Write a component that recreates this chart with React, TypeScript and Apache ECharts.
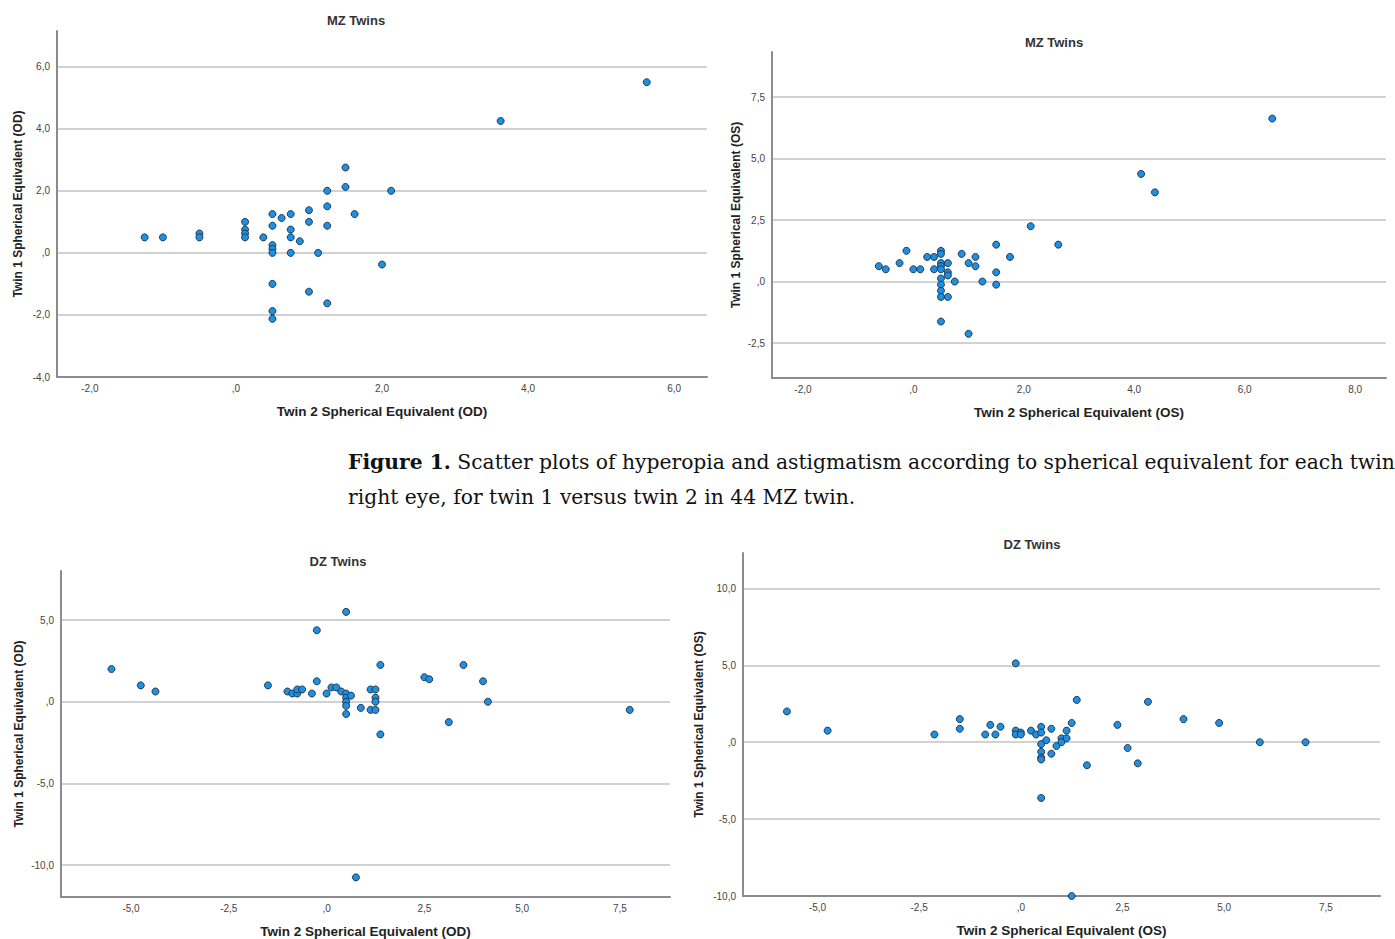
import React, { useEffect, useRef } from 'react';
import * as echarts from 'echarts';

// ---------- DATA ----------
// Panel A: MZ twins, right eye (OD)
const mzOdTwin2 = [-1.25, -1.0, -0.5, -0.5, 0.125, 0.125, 0.125, 0.125, 0.375, 0.5, 0.5, 0.5, 0.5, 0.5, 0.625, 0.75, 0.75, 0.75, 0.75, 0.875, 1.0, 1.0, 1.125, 1.25, 1.25, 1.25, 1.5, 1.5, 1.625, 2.125, 2.0, 0.5, 0.5, 0.5, 1.0, 1.25, 3.625, 5.625];
const mzOdTwin1 = [0.5, 0.5, 0.625, 0.5, 1.0, 0.75, 0.625, 0.5, 0.5, 1.25, 0.875, 0.25, 0.125, 0.0, 1.125, 1.25, 0.75, 0.5, 0.0, 0.375, 1.375, 1.0, 0.0, 2.0, 1.5, 0.875, 2.75, 2.125, 1.25, 2.0, -0.375, -1.0, -1.875, -2.125, -1.25, -1.625, 4.25, 5.5];

// Panel B: MZ twins, left eye (OS)
const mzOsTwin2 = [-0.625, -0.5, -0.25, -0.125, 0.0, 0.125, 0.25, 0.375, 0.375, 0.5, 0.5, 0.5, 0.5, 0.5, 0.5, 0.5, 0.5, 0.5, 0.625, 0.625, 0.625, 0.625, 0.75, 0.875, 1.0, 1.125, 1.125, 1.25, 1.5, 1.5, 1.5, 1.75, 2.125, 2.625, 4.125, 4.375, 6.5, 0.5, 1.0];
const mzOsTwin1 = [0.625, 0.5, 0.75, 1.25, 0.5, 0.5, 1.0, 1.0, 0.5, 1.25, 1.125, 0.75, 0.625, 0.5, 0.125, -0.125, -0.375, -0.625, 0.75, 0.375, 0.25, -0.625, 0.0, 1.125, 0.75, 1.0, 0.625, 0.0, 1.5, 0.375, -0.125, 1.0, 2.25, 1.5, 4.375, 3.625, 6.625, -1.625, -2.125];

// Panel C: DZ twins, right eye (OD)
const dzOdTwin2 = [-5.5, -4.75, -4.375, -1.5, -1.0, -0.875, -0.75, -0.75, -0.625, -0.375, -0.25, -0.25, 0.0, 0.125, 0.25, 0.375, 0.5, 0.5, 0.5, 0.5, 0.5, 0.5, 0.625, 0.875, 1.125, 1.125, 1.25, 1.25, 1.25, 1.25, 1.375, 1.375, 0.75, 2.5, 2.625, 3.125, 3.5, 4.0, 4.125, 7.75];
const dzOdTwin1 = [2.0, 1.0, 0.625, 1.0, 0.625, 0.5, 0.5, 0.75, 0.75, 0.5, 4.375, 1.25, 0.5, 0.875, 0.875, 0.625, 5.5, 0.5, 0.25, 0.0, -0.25, -0.75, 0.375, -0.375, 0.75, -0.5, 0.75, 0.25, 0.0, -0.5, 2.25, -2.0, -10.75, 1.5, 1.375, -1.25, 2.25, 1.25, 0.0, -0.5];

// Panel D: DZ twins, left eye (OS)
const dzOsTwin2 = [-5.75, -4.75, -2.125, -1.5, -1.5, -0.875, -0.75, -0.625, -0.5, -0.125, -0.125, -0.125, 0.0, 0.0, 0.25, 0.375, 0.5, 0.5, 0.5, 0.5, 0.5, 0.5, 0.5, 0.625, 0.75, 0.75, 0.875, 1.0, 1.0, 1.125, 1.125, 1.25, 1.25, 1.375, 1.625, 2.375, 2.625, 2.875, 3.125, 4.0, 4.875, 5.875, 7.0];
const dzOsTwin1 = [2.0, 0.75, 0.5, 1.5, 0.875, 0.5, 1.125, 0.5, 1.0, 5.125, 0.75, 0.5, 0.625, 0.5, 0.75, 0.5, 1.0, 0.625, -0.125, -0.625, -1.0, -1.125, -3.625, 0.125, 0.875, -0.75, -0.25, 0.25, 0.0, 0.25, 0.75, 1.25, -10.0, 2.75, -1.5, 1.125, -0.375, -1.375, 2.625, 1.5, 1.25, 0.0, 0.0];

// Tick labels
const mzOdXTicks = [-2, 0, 2, 4, 6];
const mzOdYTicks = [-4, -2, 0, 2, 4, 6];
const mzOsXTicks = [-2, 0, 2, 4, 6, 8];
const mzOsYTicks = [-2.5, 0, 2.5, 5, 7.5];
const dzOdXTicks = [-5, -2.5, 0, 2.5, 5, 7.5];
const dzOdYTicks = [-10, -5, 0, 5];
const dzOsXTicks = [-5, -2.5, 0, 2.5, 5, 7.5];
const dzOsYTicks = [-10, -5, 0, 5, 10];

const titles = ['MZ Twins', 'MZ Twins', 'DZ Twins', 'DZ Twins'];
const xNames = ['Twin 2 Spherical Equivalent (OD)', 'Twin 2 Spherical Equivalent (OS)', 'Twin 2 Spherical Equivalent (OD)', 'Twin 2 Spherical Equivalent (OS)'];
const yNames = ['Twin 1 Spherical Equivalent (OD)', 'Twin 1 Spherical Equivalent (OS)', 'Twin 1 Spherical Equivalent (OD)', 'Twin 1 Spherical Equivalent (OS)'];

const captionBold = 'Figure 1.';
const captionLine1 = ' Scatter plots of hyperopia and astigmatism according to spherical equivalent for each twin';
const captionLine2 = 'right eye, for twin 1 versus twin 2 in 44 MZ twin.';

// ---------- LAYOUT / STYLE ----------
const panels = [
  { left: 57, top: 31, width: 650, height: 346, xMin: -2.45, xMax: 6.45, yMin: -4, yMax: 7.15, xTicks: mzOdXTicks, yTicks: mzOdYTicks, xs: mzOdTwin2, ys: mzOdTwin1, titleX: 356, titleY: 20, yGap: 33 },
  { left: 772, top: 52, width: 614, height: 326, xMin: -2.56, xMax: 8.56, yMin: -3.92, yMax: 9.33, xTicks: mzOsXTicks, yTicks: mzOsYTicks, xs: mzOsTwin2, ys: mzOsTwin1, titleX: 1054, titleY: 42, yGap: 30 },
  { left: 61, top: 571, width: 609, height: 327, xMin: -6.79, xMax: 8.78, yMin: -11.95, yMax: 8.0, xTicks: dzOdXTicks, yTicks: dzOdYTicks, xs: dzOdTwin2, ys: dzOdTwin1, titleX: 338, titleY: 561, yGap: 36 },
  { left: 743, top: 553, width: 637, height: 343, xMin: -6.83, xMax: 8.83, yMin: -10, yMax: 12.3, xTicks: dzOsXTicks, yTicks: dzOsYTicks, xs: dzOsTwin2, ys: dzOsTwin1, titleX: 1032, titleY: 544, yGap: 38 },
];

const sans = '"Liberation Sans", Arial, sans-serif';
const serif = '"DejaVu Serif", "Liberation Serif", serif';
const captionSize = 20.3;

const fmt = (v: number) => {
  let s = Math.abs(v).toFixed(1).replace('.', ',');
  if (s.startsWith('0,')) s = s.slice(1);
  return (v < 0 ? '-' : '') + s;
};

export default function App() {
  const ref = useRef<HTMLDivElement>(null);
  useEffect(() => {
    const chart = echarts.init(ref.current!, null, { renderer: 'svg' });
    const grid: any[] = [];
    const xAxis: any[] = [];
    const yAxis: any[] = [];
    const series: any[] = [];
    const graphic: any[] = [];
    panels.forEach((p, i) => {
      grid.push({ left: p.left, top: p.top, width: p.width, height: p.height, containLabel: false });
      xAxis.push({
        type: 'value', gridIndex: i, min: p.xMin, max: p.xMax,
        name: xNames[i], nameLocation: 'middle', nameGap: 27,
        nameTextStyle: { fontFamily: sans, fontSize: 13.5, fontWeight: 'bold', color: '#222' },
        axisLine: { show: true, onZero: false, lineStyle: { color: '#8c8c8c', width: 2 } },
        axisTick: { show: false, customValues: p.xTicks },
        axisLabel: { customValues: p.xTicks, formatter: fmt, fontFamily: sans, fontSize: 10, color: '#444', margin: 6 },
        splitLine: { show: false },
      });
      yAxis.push({
        type: 'value', gridIndex: i, min: p.yMin, max: p.yMax,
        name: yNames[i], nameLocation: 'middle', nameGap: p.yGap,
        nameTextStyle: { fontFamily: sans, fontSize: 12, fontWeight: 'bold', color: '#222' },
        axisLine: { show: true, onZero: false, lineStyle: { color: '#8c8c8c', width: 2 } },
        axisTick: { show: false, customValues: p.yTicks },
        axisLabel: { customValues: p.yTicks, formatter: fmt, fontFamily: sans, fontSize: 10, color: '#444', margin: 7 },
        splitLine: { show: true, lineStyle: { color: '#d2d2d2', width: 2 } },
      });
      series.push({
        type: 'scatter', xAxisIndex: i, yAxisIndex: i,
        data: p.xs.map((x, k) => [x, p.ys[k]]),
        symbol: 'circle', symbolSize: 7,
        itemStyle: { color: '#1e8fe1', borderColor: '#1c2e44', borderWidth: 0.9, opacity: 1 },
        z: 3,
      });
      graphic.push({
        type: 'text', x: p.titleX, y: p.titleY,
        style: { text: titles[i], fontFamily: sans, fontSize: 13, fontWeight: 'bold', fill: '#333', textAlign: 'center', textVerticalAlign: 'middle' },
      });
    });
    graphic.push({
      type: 'text', x: 348, y: 462,
      style: {
        text: '{b|' + captionBold + '}' + captionLine1,
        fontFamily: serif, fontSize: captionSize, fill: '#111',
        textVerticalAlign: 'middle',
        rich: { b: { fontWeight: 'bold', fontFamily: serif, fontSize: captionSize, fill: '#111' } },
      },
    });
    graphic.push({
      type: 'text', x: 348, y: 497,
      style: { text: captionLine2, fontFamily: serif, fontSize: captionSize, fill: '#111', textVerticalAlign: 'middle' },
    });
    chart.setOption({
      animation: false,
      backgroundColor: '#ffffff',
      grid, xAxis, yAxis, series, graphic,
    });
    return () => chart.dispose();
  }, []);
  return <div ref={ref} style={{ position: 'absolute', left: 0, top: 0, width: 1395, height: 939, background: '#fff' }} />;
}
